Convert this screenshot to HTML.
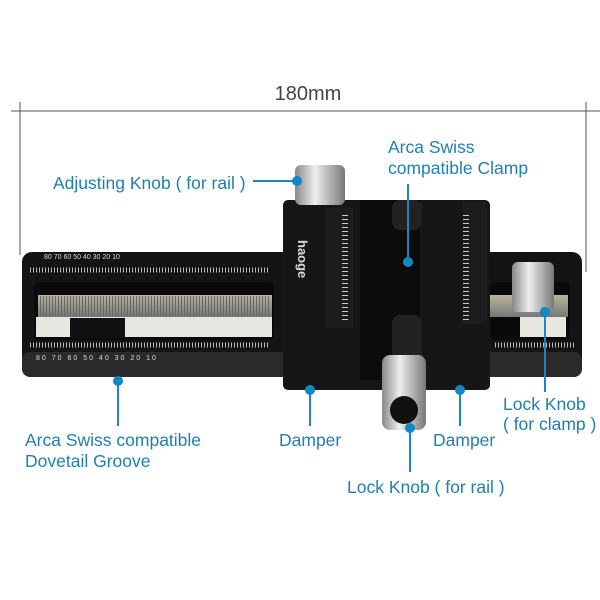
<!DOCTYPE html><html><head><style>body{margin:0;background:#fff}svg{display:block}</style></head><body>
<svg width="600" height="600" viewBox="0 0 600 600" font-family="Liberation Sans, sans-serif">
<defs>
<linearGradient id="kn" x1="0" x2="1"><stop offset="0" stop-color="#888"/><stop offset=".4" stop-color="#eee"/><stop offset="1" stop-color="#777"/></linearGradient>
<linearGradient id="rack" x1="0" y1="0" x2="0" y2="1"><stop offset="0" stop-color="#b8b4a0"/><stop offset="1" stop-color="#777"/></linearGradient>
</defs>
<text x="308" y="100" font-size="20" fill="#444" text-anchor="middle">180mm</text>
<line x1="11" y1="111" x2="600" y2="111" stroke="#555" stroke-width="1"/>
<line x1="20" y1="102" x2="20" y2="255" stroke="#555"/>
<line x1="586" y1="102" x2="586" y2="272" stroke="#555"/>
<rect x="22" y="252" width="560" height="125" rx="10" fill="#141414"/>
<rect x="22" y="352" width="560" height="25" rx="8" fill="#2a2a2a"/>
<rect x="34" y="282" width="240" height="58" rx="6" fill="#0a0a0a"/>
<rect x="36" y="317" width="236" height="20" fill="#e8e6e0"/>
<rect x="70" y="318" width="55" height="20" fill="#111"/>
<rect x="38" y="295" width="234" height="22" fill="url(#rack)"/>
<line x1="40" y1="306" x2="270" y2="306" stroke="#666" stroke-width="20" stroke-dasharray="1 2"/>
<rect x="490" y="282" width="80" height="58" rx="6" fill="#0a0a0a"/>
<rect x="520" y="317" width="46" height="20" fill="#e8e6e0"/>
<rect x="490" y="295" width="78" height="22" fill="url(#rack)"/>
<g font-size="7" fill="#ddd">
<text x="44" y="259">80 70 60 50 40 30 20 10</text>
<text x="36" y="360" letter-spacing="2">80 70 60 50 40 30 20 10</text>
</g>
<line x1="30" y1="270" x2="270" y2="270" stroke="#bbb" stroke-width="5" stroke-dasharray="1 2"/>
<line x1="30" y1="345" x2="270" y2="345" stroke="#bbb" stroke-width="5" stroke-dasharray="1 2"/>
<line x1="495" y1="345" x2="575" y2="345" stroke="#bbb" stroke-width="5" stroke-dasharray="1 2"/>
<rect x="283" y="200" width="207" height="190" rx="5" fill="#161616"/>
<rect x="360" y="200" width="60" height="180" fill="#0c0c0c"/>
<rect x="392" y="200" width="30" height="30" rx="8" fill="#222"/>
<rect x="392" y="315" width="30" height="65" rx="8" fill="#222"/>
<rect x="325" y="208" width="28" height="120" fill="#1c1c1c"/>
<rect x="462" y="202" width="25" height="122" fill="#1c1c1c"/>
<line x1="345" y1="215" x2="345" y2="320" stroke="#ccc" stroke-width="6" stroke-dasharray="1 3"/>
<line x1="466" y1="215" x2="466" y2="320" stroke="#ccc" stroke-width="6" stroke-dasharray="1 3"/>
<text x="298" y="240" font-size="13" font-weight="bold" fill="#ddd" transform="rotate(90 298 240)">haoge</text>
<rect x="295" y="165" width="50" height="40" rx="6" fill="url(#kn)"/>
<rect x="512" y="262" width="42" height="50" rx="6" fill="url(#kn)"/>
<rect x="382" y="355" width="44" height="75" rx="8" fill="url(#kn)"/>
<circle cx="404" cy="410" r="14" fill="#111"/>
<g stroke="#1a86c4" stroke-width="2">
<line x1="253" y1="181" x2="297" y2="181"/>
<line x1="408" y1="184" x2="408" y2="262"/>
<line x1="545" y1="312" x2="545" y2="392"/>
<line x1="118" y1="381" x2="118" y2="426"/>
<line x1="310" y1="390" x2="310" y2="426"/>
<line x1="460" y1="390" x2="460" y2="426"/>
<line x1="410" y1="428" x2="410" y2="472"/>
</g>
<g fill="#1187c6">
<circle cx="297" cy="181" r="5"/><circle cx="408" cy="262" r="5"/><circle cx="545" cy="312" r="5"/>
<circle cx="118" cy="381" r="5"/><circle cx="310" cy="390" r="5"/><circle cx="460" cy="390" r="5"/><circle cx="410" cy="428" r="5"/>
</g>
<g font-size="17.5" fill="#1f7fb0">
<text x="53" y="189">Adjusting Knob ( for rail )</text>
<text x="388" y="153">Arca Swiss</text>
<text x="388" y="174">compatible Clamp</text>
<text x="503" y="410">Lock Knob</text>
<text x="503" y="430">( for clamp )</text>
<text x="25" y="446">Arca Swiss compatible</text>
<text x="25" y="467">Dovetail Groove</text>
<text x="279" y="446">Damper</text>
<text x="433" y="446">Damper</text>
<text x="347" y="493">Lock Knob ( for rail )</text>
</g>
</svg>
</body></html>
